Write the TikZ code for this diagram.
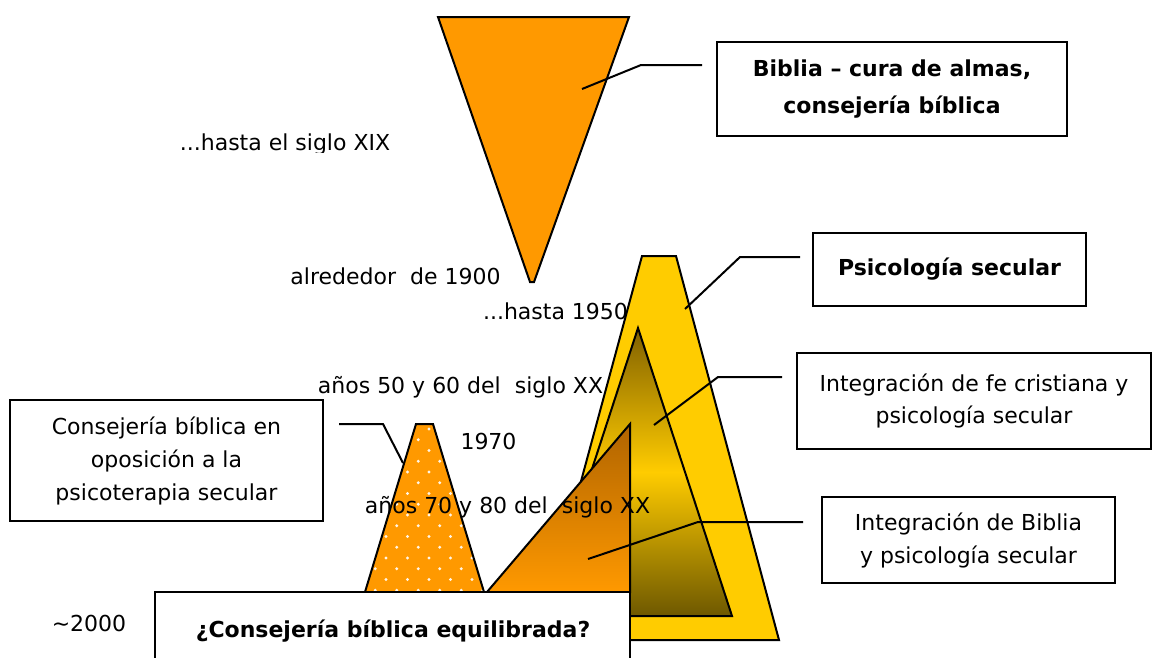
\documentclass[tikz,border=0pt]{standalone}
\usepackage{fontspec}
\setmainfont{DejaVu Sans}
\definecolor{cOrange}{HTML}{FF9900}
\definecolor{cYellow}{HTML}{FFCC00}
\definecolor{cDarkTop}{HTML}{806000}
\definecolor{cDarkBot}{HTML}{6E5800}
\definecolor{cBrown}{HTML}{B06400}
\begin{document}
\begin{tikzpicture}[x=1pt,y=-1pt,
  box/.style={draw=black,line width=2pt,fill=white,align=center,inner sep=0pt},
  tri/.style={draw=black,line width=2pt,line join=miter},
  callout/.style={draw=black,line width=2pt},
  lbl/.style={font=\fontsize{22}{26}\selectfont,inner sep=0pt,anchor=base},
  bfont/.style={font=\fontsize{22}{37}\selectfont\bfseries}]
\useasboundingbox (0,0) rectangle (1153,657);
\fill[white] (0,0) rectangle (1153,657);
\clip (0,0) rectangle (1153,657);
% big yellow trapezoid
\filldraw[tri,fill=cYellow] (642,256) -- (676,256) -- (779,640) -- (538,640) -- cycle;
% inner gradient triangle
\shade[top color=cDarkTop,bottom color=cDarkBot,middle color=cYellow] (638,328) -- (732,616) -- (544,616) -- cycle;
\draw[tri] (638,328) -- (732,616) -- (544,616) -- cycle;
% orange gradient triangle
\shade[top color=cBrown,bottom color=cOrange] (487,592) -- (630,424) -- (630,592) -- cycle;
\draw[tri] (487,592) -- (630,424) -- (630,592) -- cycle;
% dotted trapezoid
\fill[cOrange] (416,424) -- (433,424) -- (484,592) -- (365,592) -- cycle;
\begin{scope}
\clip (416,424) -- (433,424) -- (484,592) -- (365,592) -- cycle;
\foreach \r in {0,...,16}{
  \foreach \c in {0,...,7}{
    \fill[white,opacity=0.9] ({343+\c*21.5+mod(\r,2)*10.75},{429+\r*10.75}) circle (1.7pt);
  }
}
\end{scope}
\draw[tri] (416,424) -- (433,424) -- (484,592) -- (365,592) -- cycle;
% inverted triangle
\filldraw[tri,fill=cOrange] (438,17) -- (629,17) -- (534,282) -- (530,282) -- cycle;
% boxes
\node[box,bfont,minimum width=350pt,minimum height=94pt] (biblia) at (892,89) {Biblia – cura de almas,\\consejería bíblica};
\node[box,bfont,minimum width=273pt,minimum height=73pt] (psico) at (949.5,269.5) {Psicología secular};
\node[box,font=\fontsize{22}{32}\selectfont,minimum width=354pt,minimum height=96pt] (fe) at (974,401) {Integración de fe cristiana y\\psicología secular};
\node[box,font=\fontsize{22}{33}\selectfont,minimum width=293pt,minimum height=86pt] (integ) at (968.5,540) {Integración de Biblia\\y psicología secular};
\node[box,font=\fontsize{22}{33}\selectfont,minimum width=313pt,minimum height=121pt] (oppo) at (166.5,460.5) {Consejería bíblica en\\oposición a la\\psicoterapia secular};
\node[box,minimum width=475pt,minimum height=80pt] (equil) at (392.5,632) {};
\node[lbl,font=\fontsize{22}{26}\selectfont\bfseries] (equiltext) at (393,637) {¿Consejería bíblica equilibrada?};
% callouts
\coordinate (c1a) at (582,89);  \coordinate (c1b) at (641,65);  \coordinate (c1c) at (702,65);
\draw[callout] (c1a) -- (c1b) -- (c1c);
\coordinate (c2a) at (685,309); \coordinate (c2b) at (740,257); \coordinate (c2c) at (800,257);
\draw[callout] (c2a) -- (c2b) -- (c2c);
\coordinate (c3a) at (654,425); \coordinate (c3b) at (718,377); \coordinate (c3c) at (782,377);
\draw[callout] (c3a) -- (c3b) -- (c3c);
\coordinate (c4a) at (588,559); \coordinate (c4b) at (698,522); \coordinate (c4c) at (803,522);
\draw[callout] (c4a) -- (c4b) -- (c4c);
\coordinate (c5a) at (403,463); \coordinate (c5b) at (383,424); \coordinate (c5c) at (339,424);
\draw[callout] (c5a) -- (c5b) -- (c5c);
% labels
\begin{scope}
\clip (0,0) rectangle (1153,152);
\node[lbl] (t1) at (285,150) {...hasta el siglo XIX};
\end{scope}
\node[lbl] (t2) at (395.5,284) {alrededor\ \ de 1900};
\node[lbl] (t3) at (555.5,319) {...hasta 1950};
\node[lbl] (t4) at (460.5,393) {años 50 y 60 del\ \ siglo XX};
\node[lbl] (t5) at (488.5,449) {1970};
\node[lbl] (t6) at (507.5,513) {años 70 y 80 del\ \ siglo XX};
\node[lbl] (t7) at (89,631) {\textasciitilde 2000};
\end{tikzpicture}
\end{document}
